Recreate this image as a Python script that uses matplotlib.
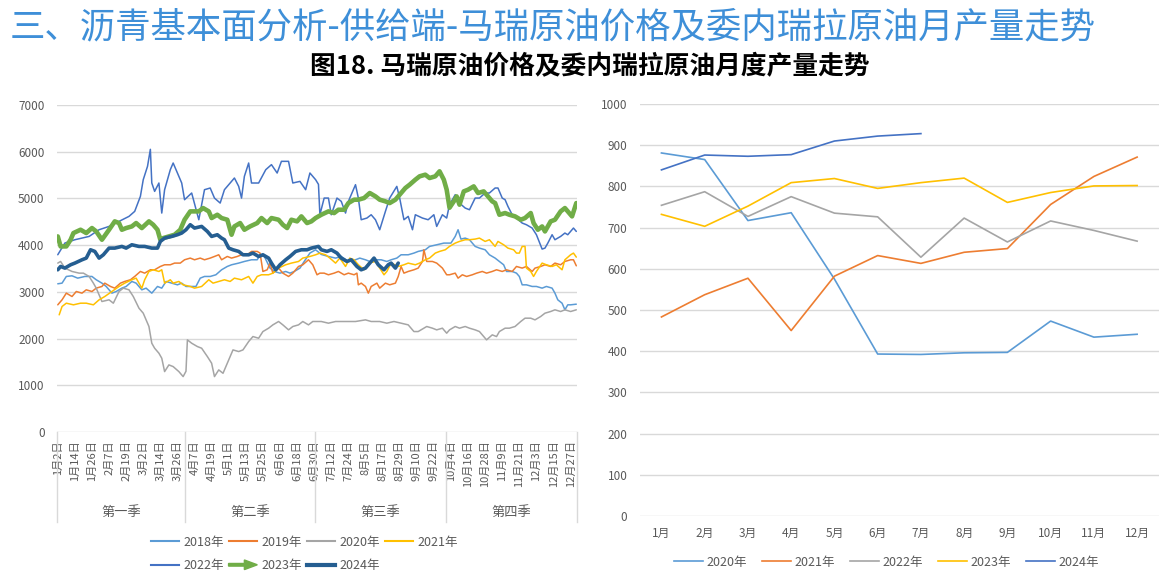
import numpy as np
import pandas as pd
import matplotlib
matplotlib.use('Agg')
import matplotlib.pyplot as plt
import matplotlib.patches as mpatches
import matplotlib.transforms as mtransforms
from matplotlib.legend_handler import HandlerPatch
from matplotlib.lines import Line2D

plt.rcParams['font.family'] = ['Noto Sans CJK SC', 'DejaVu Sans']

# ---- left chart: daily price (day index from 1/2, value) ----
p2018 = [(0,3172),(3,3186),(6,3329),(10,3343),(14,3293),(19,3329),(24,3329),(27,3258),(31,3186),(34,3115),
         (38,2972),(41,3007),(45,3079),(48,3115),(52,3222),(55,3186),(59,3043),(62,3079),(66,2972),(70,3115),
         (73,3079),(76,3222),(80,3186),(84,3150),(87,3186),(90,3115),(93,3115),(97,3115),(100,3293),(103,3329),
         (107,3329),(111,3365),(115,3472),(119,3543),(122,3579),(127,3615),(131,3650),(136,3686),(140,3686),
         (142,3793),(145,3757),(149,3508),(152,3436),(156,3400),(160,3436),(163,3400),(166,3436),(170,3508),
         (173,3650),(177,3830),(181,3900),(185,3800),(190,3757),(195,3722),(199,3757),(204,3650),(209,3686),
         (212,3722),(216,3686),(219,3650),(223,3686),(227,3686),(231,3650),(234,3686),(238,3722),(241,3793),
         (246,3793),(250,3829),(253,3865),(258,3900),(261,3972),(266,4007),(271,4043),(276,4043),(279,4186),
         (281,4329),(283,4129),(286,4150),(289,4115),(293,3972),(296,3936),(300,3900),(303,3793),(307,3722),
         (310,3650),(313,3579),(315,3436),(319,3436),(322,3400),(324,3329),(326,3150),(329,3150),(333,3115),
         (336,3115),(340,3079),(343,3115),(347,3079),(349,2972),(351,2829),(354,2757),(356,2615),(358,2722),
         (360,2722),(364,2736)]
p2019 = [(0,2722),(3,2829),(6,2972),(10,2900),(13,3007),(17,2972),(20,3043),(24,3007),(27,3079),(31,3115),
         (33,3186),(37,3115),(40,3079),(44,3186),(47,3222),(51,3258),(54,3329),(58,3436),(61,3400),(65,3472),
         (68,3472),(72,3543),(75,3579),(79,3579),(82,3615),(86,3615),(89,3686),(93,3722),(96,3686),(100,3722),
         (103,3686),(107,3722),(110,3757),(113,3793),(115,3686),(119,3757),(122,3722),(126,3757),(129,3793),
         (133,3793),(136,3865),(140,3865),(142,3829),(144,3436),(147,3472),(149,3615),(151,3400),(155,3508),
         (158,3400),(162,3329),(165,3400),(169,3543),(172,3579),(176,3686),(179,3579),(182,3365),(184,3400),
         (187,3400),(190,3365),(194,3400),(197,3436),(201,3365),(204,3400),(208,3365),(210,3400),(211,3150),
         (213,3186),(216,3115),(218,2972),(220,3115),(224,3186),(226,3079),(230,3186),(233,3150),(237,3186),
         (239,3329),(241,3543),(243,3400),(246,3436),(250,3472),(253,3508),(256,3650),(257,3900),(259,3650),
         (263,3650),(266,3615),(270,3508),(273,3365),(275,3365),(279,3400),(281,3293),(284,3365),(287,3329),
         (291,3365),(294,3400),(298,3436),(301,3400),(305,3436),(308,3472),(312,3436),(315,3472),(319,3436),
         (322,3543),(326,3508),(329,3543),(333,3436),(335,3508),(339,3543),(342,3579),(346,3543),(349,3615),
         (353,3579),(356,3650),(360,3686),(362,3686),(364,3557)]
p2020 = [(0,3615),(2,3650),(5,3508),(10,3436),(15,3400),(18,3400),(22,3329),(25,3186),(27,3079),(31,2793),
         (36,2829),(39,2757),(43,3007),(46,3079),(50,3043),(53,2900),(57,2650),(60,2543),(64,2258),(66,1900),
         (68,1793),(71,1686),(73,1579),(75,1293),(78,1436),(81,1400),(85,1293),(88,1186),(90,1300),(91,1972),
         (94,1900),(98,1829),(101,1793),(105,1615),(108,1472),(110,1186),(113,1329),(116,1257),(120,1543),
         (123,1757),(127,1722),(130,1757),(134,1936),(137,2043),(141,2007),(144,2150),(148,2222),(151,2293),
         (155,2365),(158,2293),(162,2186),(165,2258),(169,2293),(172,2365),(176,2293),(179,2365),(183,2365),
         (185,2365),(190,2329),(195,2365),(199,2365),(204,2365),(209,2365),(216,2400),(220,2365),(226,2365),
         (231,2329),(236,2365),(241,2329),(246,2293),(250,2150),(253,2150),(257,2222),(259,2258),(263,2222),
         (266,2186),(270,2222),(273,2115),(275,2186),(279,2258),(282,2222),(286,2258),(289,2222),(293,2186),
         (296,2150),(301,1972),(305,2079),(308,2043),(310,2150),(314,2222),(317,2222),(321,2258),(325,2365),
         (328,2436),(332,2436),(335,2400),(339,2472),(342,2543),(346,2579),(349,2615),(353,2579),(356,2615),
         (360,2579),(364,2615)]
p2021 = [(1,2508),(3,2686),(6,2757),(11,2722),(16,2757),(20,2757),(25,2722),(29,2829),(33,2900),(38,3007),
         (43,3115),(47,3186),(52,3258),(55,3293),(59,3079),(61,3258),(64,3436),(67,3472),(71,3436),(73,3472),
         (75,3186),(79,3258),(81,3186),(85,3222),(88,3150),(93,3115),(96,3079),(101,3115),(106,3258),(109,3186),
         (113,3222),(117,3258),(121,3222),(124,3293),(129,3258),(134,3329),(137,3186),(140,3329),(143,3365),
         (148,3365),(151,3400),(155,3508),(160,3579),(164,3615),(169,3650),(172,3722),(177,3757),(181,3793),
         (184,3829),(188,3793),(191,3722),(195,3615),(198,3722),(202,3543),(205,3722),(208,3686),(211,3579),
         (215,3472),(218,3615),(223,3650),(226,3508),(229,3365),(231,3436),(234,3615),(239,3543),(243,3579),
         (246,3615),(251,3579),(254,3615),(258,3686),(261,3722),(265,3829),(268,3865),(272,3900),(275,3972),
         (279,4043),(282,4079),(286,4115),(289,4115),(293,4129),(296,4150),(300,4079),(303,4115),(307,3972),
         (309,4079),(313,4007),(316,3936),(320,3900),(322,3829),(324,3829),(326,3972),(328,3972),(329,3508),
         (332,3436),(334,3329),(336,3436),(340,3615),(343,3579),(347,3543),(350,3579),(354,3472),(356,3686),
         (360,3793),(362,3829),(364,3743)]
p2022 = [(0,3794),(5,4044),(12,4115),(22,4186),(29,4329),(36,4400),(43,4508),(50,4615),(54,4722),(58,5043),
         (60,5400),(63,5686),(65,6050),(66,5329),(68,5150),(71,5329),(73,4686),(75,5186),(79,5614),(81,5757),
         (84,5543),(87,5329),(89,4972),(94,5115),(99,4543),(103,5186),(107,5222),(110,5007),(114,4900),
         (117,5186),(124,5436),(127,5257),(129,5007),(131,5472),(134,5757),(136,5329),(141,5329),(146,5614),
         (150,5722),(154,5543),(157,5793),(162,5793),(165,5329),(170,5364),(174,5186),(177,5543),(181,5400),
         (183,5300),(184,4650),(187,5007),(190,5007),(192,4650),(196,5007),(199,4936),(202,4686),(204,4936),
         (206,5079),(209,5293),(211,5007),(213,4543),(217,4579),(220,4650),(223,4543),(226,4329),(230,4722),
         (233,5007),(238,5257),(240,5007),(243,4543),(246,4615),(249,4329),(251,4650),(256,4579),(260,4543),
         (264,4650),(266,4400),(270,4650),(273,4579),(275,4865),(279,5079),(282,4900),(286,4793),(289,4757),
         (293,5007),(296,5007),(300,5115),(303,5115),(307,5222),(309,5222),(312,5007),(314,4972),(316,4829),
         (319,4650),(322,4579),(326,4472),(329,4436),(333,4365),(336,4222),(340,3915),(342,3936),(344,4043),
         (347,4222),(349,4115),(353,4186),(356,4258),(358,4222),(362,4365),(364,4293)]
p2023 = [(0,4186),(2,3972),(6,3972),(9,4115),(11,4258),(16,4329),(20,4258),(24,4365),(27,4293),(31,4115),
         (36,4329),(40,4508),(43,4472),(45,4329),(48,4365),(52,4400),(55,4472),(59,4365),(64,4508),(67,4436),
         (70,4329),(72,4115),(74,4150),(78,4186),(82,4222),(86,4329),(89,4543),(93,4722),(99,4722),(102,4793),
         (106,4722),(108,4579),(112,4650),(115,4579),(119,4543),(122,4222),(124,4400),(128,4472),(131,4329),
         (135,4400),(140,4472),(143,4579),(147,4472),(150,4579),(155,4543),(158,4436),(161,4365),(164,4543),
         (168,4508),(171,4615),(175,4472),(178,4508),(181,4580),(185,4650),(190,4722),(194,4686),(197,4757),
         (201,4757),(204,4900),(208,4972),(211,4972),(215,5007),(219,5115),(223,5043),(226,4972),(230,4936),
         (233,4900),(237,4972),(240,5079),(244,5222),(247,5293),(251,5400),(254,5472),(258,5507),(261,5436),
         (265,5472),(268,5579),(271,5400),(273,5186),(275,4800),(278,4936),(280,5043),(282,4865),(285,5150),
         (288,5186),(292,5257),(295,5115),(299,5150),(302,5043),(305,4936),(307,4900),(310,4650),(314,4686),
         (317,4650),(321,4615),(325,4543),(328,4579),(332,4686),(334,4472),(337,4329),(340,4400),(342,4293),
         (346,4508),(349,4543),(353,4722),(356,4793),(358,4722),(361,4615),(364,4900)]
p2024 = [(0,3472),(2,3543),(5,3508),(9,3579),(12,3615),(17,3686),(20,3722),(23,3900),(26,3865),(29,3722),
         (32,3793),(36,3936),(40,3936),(45,3972),(48,3936),(52,4007),(57,3972),(61,3972),(66,3936),(70,3936),
         (72,4079),(75,4150),(80,4186),(84,4222),(87,4258),(90,4329),(93,4436),(96,4365),(101,4400),(105,4293),
         (108,4186),(112,4222),(115,4150),(117,4115),(120,3936),(123,3900),(127,3865),(130,3793),(134,3793),
         (137,3829),(141,3757),(144,3793),(148,3722),(150,3615),(153,3472),(156,3579),(160,3686),(163,3757),
         (167,3865),(171,3900),(175,3900),(178,3936),(183,3972),(185,3900),(189,3865),(192,3900),(196,3829),
         (199,3722),(203,3650),(206,3686),(210,3543),(213,3472),(216,3508),(219,3615),(222,3722),(225,3579),
         (229,3472),(232,3579),(234,3615),(237,3508),(239,3615)]

years_left = ['2018年', '2019年', '2020年', '2021年', '2022年', '2023年', '2024年']
quarters = ['第一季', '第二季', '第三季', '第四季']

# ---- right chart: monthly output ----
months = ['1月', '2月', '3月', '4月', '5月', '6月', '7月', '8月', '9月', '10月', '11月', '12月']
out2020 = [881, 865, 717, 736, 575, 393, 392, 396, 397, 473, 434, 441]
out2021 = [483, 537, 577, 450, 582, 632, 613, 640, 649, 756, 824, 871]
out2022 = [754, 787, 727, 775, 735, 726, 628, 723, 665, 716, 693, 667]
out2023 = [732, 703, 752, 809, 819, 795, 809, 820, 761, 785, 801, 802]
out2024 = [840, 876, 873, 877, 910, 922, 928]
years_right = ['2020年', '2021年', '2022年', '2023年', '2024年']

gray = '#595959'
grid_c = '#D9D9D9'

fig = plt.figure(figsize=(11.74, 5.83), dpi=100)

fig.text(0.0085, 0.953, '三、沥青基本面分析-供给端-马瑞原油价格及委内瑞拉原油月产量走势',
         fontsize=25.5, fontweight='light', color='#3E8FD8', va='center', ha='left')
fig.text(0.5026, 0.885, '图18. 马瑞原油价格及委内瑞拉原油月度产量走势',
         fontsize=18.5, fontweight='bold', color='black', va='center', ha='center')

# ---------------- left chart ----------------
ax1 = fig.add_axes([0.0486, 0.259, 0.4429, 0.561])
styles = [('#5B9BD5', 1.1), ('#ED7D31', 1.1), ('#A5A5A5', 1.1), ('#FFC000', 1.1),
          ('#4472C4', 1.1), ('#70AD47', 3.3), ('#255E91', 2.6)]
for pts, (c, lw) in zip([p2018, p2019, p2020, p2021, p2022, p2023, p2024], styles):
    d, v = zip(*pts)
    ax1.plot(d, v, color=c, lw=lw, solid_joinstyle='round', solid_capstyle='round')

ax1.set_xlim(-0.5, 364.5)
ax1.set_ylim(0, 7000)
ax1.set_yticks(range(0, 7001, 1000))
ax1.grid(axis='y', color=grid_c, lw=1)
ax1.set_axisbelow(True)
for s in ax1.spines.values():
    s.set_visible(False)

dates = pd.date_range('2024-01-02', '2024-12-31')
tick_pos = np.arange(0, len(dates), 12)
ax1.set_xticks(tick_pos)
ax1.set_xticklabels([f'{dates[i].month}月{dates[i].day}日' for i in tick_pos],
                    rotation=90, fontsize=8, color=gray)
ax1.tick_params(axis='x', length=0, pad=6)
ax1.tick_params(axis='y', length=0, pad=9, labelsize=8.5, labelcolor=gray)

trans = mtransforms.blended_transform_factory(ax1.transData, ax1.transAxes)
bounds = [-0.5, 89.5, 180.5, 272.5, 364.5]
for b in bounds:
    ax1.plot([b, b], [0, -0.275], transform=trans, color=grid_c, lw=1, clip_on=False)
for i, q in enumerate(quarters):
    ax1.text((bounds[i] + bounds[i + 1]) / 2, -0.245, q, transform=trans,
             ha='center', va='center', fontsize=9.5, color=gray)


def make_arrow(legend, orig_handle, xdescent, ydescent, width, height, fontsize):
    return mpatches.FancyArrow(0, 0.5 * height, width, 0, length_includes_head=True,
                               width=0.3 * height, head_width=1.1 * height,
                               head_length=0.45 * width)


handles = [Line2D([], [], color=c, lw=(1.5 if lw < 2 else 3)) for c, lw in styles]
handles[5] = mpatches.FancyArrow(0, 0, 1, 0, color='#70AD47')
order = [0, 4, 1, 5, 2, 6, 3]
leg1 = fig.legend([handles[i] for i in order], [years_left[i] for i in order],
                  loc='center', bbox_to_anchor=(0.259, 0.050), ncol=4, frameon=False,
                  fontsize=9, handlelength=2.3, handletextpad=0.3, columnspacing=0.4,
                  labelspacing=0.85, labelcolor=gray,
                  handler_map={mpatches.FancyArrow: HandlerPatch(patch_func=make_arrow)})

# ---------------- right chart ----------------
ax2 = fig.add_axes([0.545, 0.115, 0.442, 0.7067])
x = np.arange(len(months))
right_series = [out2020, out2021, out2022, out2023, out2024]
right_colors = ['#5B9BD5', '#ED7D31', '#A5A5A5', '#FFC000', '#4472C4']
for vals, c, lab in zip(right_series, right_colors, years_right):
    ax2.plot(x[:len(vals)], vals, color=c, lw=1.2, label=lab, solid_joinstyle='round')
ax2.set_xlim(-0.5, 11.5)
ax2.set_ylim(0, 1000)
ax2.set_yticks(range(0, 1001, 100))
ax2.set_xticks(x)
ax2.set_xticklabels(months)
ax2.grid(axis='y', color=grid_c, lw=1)
ax2.set_axisbelow(True)
for s in ax2.spines.values():
    s.set_visible(False)
ax2.tick_params(axis='x', length=0, pad=8, labelsize=8.5, labelcolor=gray)
ax2.tick_params(axis='y', length=0, pad=9, labelsize=8.5, labelcolor=gray)
fig.legend(*ax2.get_legend_handles_labels(), loc='center', bbox_to_anchor=(0.7555, 0.036),
           ncol=5, frameon=False, fontsize=9, handlelength=2.3, handletextpad=0.3,
           columnspacing=1.2, labelcolor=gray)

fig.savefig('out.png', dpi=100)
